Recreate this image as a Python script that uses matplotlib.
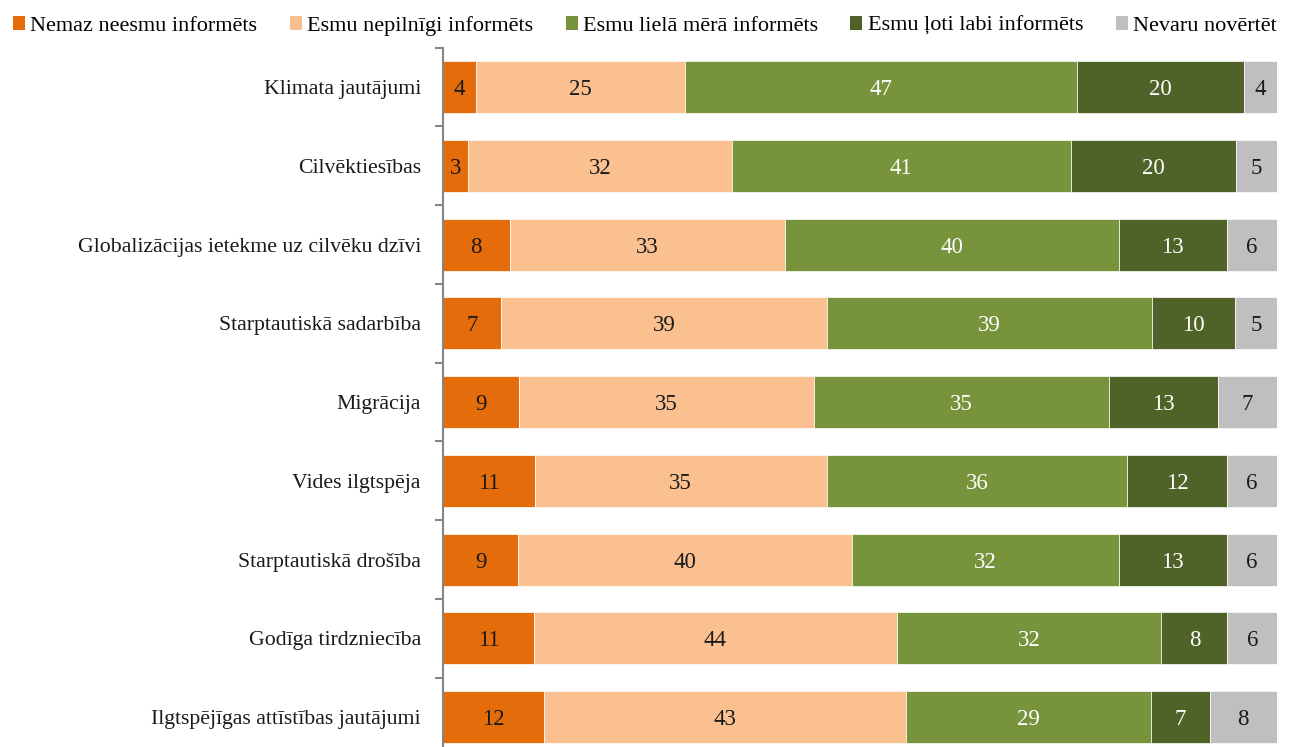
import matplotlib as mpl
import matplotlib.pyplot as plt
import numpy as np
from matplotlib.patches import Patch

mpl.rcParams['font.family'] = ['Liberation Serif', 'DejaVu Serif']

categories = ['Klimata jautājumi', 'Cilvēktiesības',
              'Globalizācijas ietekme uz cilvēku dzīvi',
              'Starptautiskā sadarbība', 'Migrācija', 'Vides ilgtspēja',
              'Starptautiskā drošība', 'Godīga tirdzniecība',
              'Ilgtspējīgas attīstības jautājumi']
series_names = ['Nemaz neesmu informēts', 'Esmu nepilnīgi informēts',
                'Esmu lielā mērā informēts', 'Esmu ļoti labi informēts',
                'Nevaru novērtēt']
nemaz = [4, 3, 8, 7, 9, 11, 9, 11, 12]
nepilnigi = [25, 32, 33, 39, 35, 35, 40, 44, 43]
liela = [47, 41, 40, 39, 35, 36, 32, 32, 29]
loti = [20, 20, 13, 10, 13, 12, 13, 8, 7]
nevaru = [4, 5, 6, 5, 7, 6, 6, 6, 8]

colors = ['#E46C0A', '#FAC090', '#77933C', '#4F6228', '#BFBFBF']
text_colors = ['#1a1a1a', '#1a1a1a', 'white', 'white', '#1a1a1a']

data = np.array([nemaz, nepilnigi, liela, loti, nevaru], dtype=float)
shares = data / data.sum(axis=0) * 100

fig = plt.figure(figsize=(12.9, 7.47), dpi=100)
ax = fig.add_axes([443 / 1290, 1 - 756.6 / 747, 834 / 1290, 709 / 747])

y = np.arange(len(categories))
left = np.zeros(len(categories))
for i in range(5):
    bars = ax.barh(y, shares[i], left=left, height=0.66, color=colors[i],
                   edgecolor='white', linewidth=0.5)
    for b, v in zip(bars, data[i]):
        ax.text(b.get_x() + b.get_width() / 2, b.get_y() + b.get_height() / 2,
                '%d' % v, ha='center', va='center_baseline', fontsize=16.5,
                color=text_colors[i])
    left += shares[i]

ax.set_xlim(0, 100)
ax.set_ylim(len(categories) - 0.5, -0.5)
ax.set_yticks(y)
ax.set_yticklabels(categories, fontsize=15.7, color='#1a1a1a',
                   va='center_baseline')
ax.set_yticks(np.arange(-0.5, len(categories), 1), minor=True)
ax.tick_params(axis='y', which='major', length=0, pad=16)
ax.tick_params(axis='y', which='minor', length=6, width=1.5, color='#868686')
ax.set_xticks([])
for s in ['top', 'right', 'bottom']:
    ax.spines[s].set_visible(False)
ax.spines['left'].set_color('#868686')
ax.spines['left'].set_linewidth(1.5)

handles = [Patch(facecolor=c, edgecolor='none') for c in colors]
fig.legend(handles, series_names, loc='center', bbox_to_anchor=(0.5, 1 - 26 / 747),
           ncol=5, frameon=False, fontsize=16, handlelength=0.54, handleheight=0.54,
           handletextpad=0.25, columnspacing=1.45, borderaxespad=0, borderpad=0)

plt.savefig('out.png', dpi=100)
